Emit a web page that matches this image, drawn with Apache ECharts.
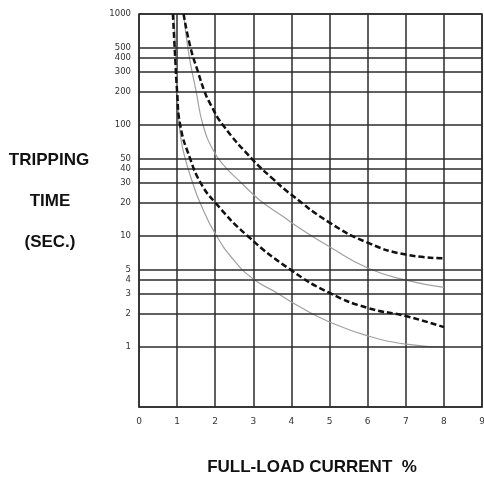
<!DOCTYPE html>
<html>
<head>
<meta charset="utf-8">
<script src="https://cdn.jsdelivr.net/npm/echarts@6/dist/echarts.min.js"></script>
<style>
html, body { margin: 0; padding: 0; background: #fff; }
#chart { width: 484px; height: 478px; }
</style>
</head>
<body>
<div id="chart"></div>
<script>
// tick labels
var xTicks = [0, 1, 2, 3, 4, 5, 6, 7, 8, 9];
var yTicks = [1000, 500, 400, 300, 200, 100, 50, 40, 30, 20, 10, 5, 4, 3, 2, 1];

// curves: [current x full-load, seconds]
var upperDashed = [[1.17, 1000], [1.35, 500], [1.55, 300], [1.72, 200], [1.85, 160], [2.2, 100],
	[3.0, 48], [3.5, 33], [4.0, 23.5], [5.0, 13.2], [6.0, 8.7], [7.0, 6.8], [8.0, 6.3]];
var upperSolid = [[1.17, 1000], [1.3, 450], [1.5, 200], [1.68, 100], [1.95, 59], [2.26, 42],
	[2.69, 30], [3.17, 21], [3.79, 14.9], [4.18, 12], [5.0, 8.0], [6.0, 5.15], [7.0, 4.0], [8.0, 3.45]];
var lowerDashed = [[0.89, 1000], [0.95, 400], [1.0, 200], [1.08, 100], [1.34, 50], [1.62, 30],
	[2.0, 20], [2.85, 10], [4.0, 4.9], [5.0, 3.07], [6.0, 2.25], [7.0, 1.9], [8.0, 1.51]];
var lowerSolid = [[0.92, 1000], [0.955, 500], [1.0, 220], [1.04, 120], [1.1, 75], [1.21, 50],
	[1.41, 30], [1.6, 20], [2.0, 10.5], [2.5, 6.0], [3.0, 4.1], [3.6, 3.1], [4.23, 2.29],
	[5.0, 1.68], [6.0, 1.26], [7.0, 1.06], [8.0, 1.0]];

var gridColor = '#2b2b2b';
var labelFont = 'DejaVu Sans';
var titleFont = 'bold 17px "Liberation Sans", Arial, sans-serif';

var myChart = echarts.init(document.getElementById('chart'));

var hLines = [];
for (var i = 0; i < yTicks.length; i++) {
	hLines.push({ yAxis: yTicks[i] });
}

function dashedSeries(name, data) {
	return {
		name: name,
		type: 'line',
		data: data,
		smooth: 0.5,
		symbol: 'none',
		lineStyle: { color: '#111', width: 2.5, type: [6, 3] },
		z: 5
	};
}

function solidSeries(name, data) {
	return {
		name: name,
		type: 'line',
		data: data,
		smooth: 0.5,
		symbol: 'none',
		lineStyle: { color: '#a0a0a0', width: 1.2 },
		z: 4
	};
}

var series = [
	dashedSeries('upperDashed', upperDashed),
	solidSeries('upperSolid', upperSolid),
	dashedSeries('lowerDashed', lowerDashed),
	solidSeries('lowerSolid', lowerSolid)
];
// horizontal grid + y labels
series[0].markLine = {
	silent: true,
	animation: false,
	symbol: ['none', 'none'],
	lineStyle: { color: gridColor, width: 1.5, type: 'solid' },
	label: {
		show: true,
		position: 'start',
		distance: 8,
		formatter: function (p) { return p.value; },
		fontFamily: labelFont,
		fontSize: 8.5,
		color: '#333'
	},
	data: hLines
};

var option = {
	animation: false,
	backgroundColor: '#fff',
	grid: {
		left: 139,
		right: 2,
		top: 14,
		bottom: 71,
		show: true,
		borderColor: gridColor,
		borderWidth: 1.5,
		outerBoundsMode: 'none'
	},
	xAxis: {
		type: 'value',
		min: 0,
		max: 9,
		interval: 1,
		axisLine: { show: true, lineStyle: { color: gridColor, width: 1.5 } },
		axisTick: { show: false },
		splitLine: { show: true, lineStyle: { color: gridColor, width: 1.5 } },
		axisLabel: {
			margin: 10,
			fontFamily: labelFont,
			fontSize: 9,
			color: '#333',
			formatter: function (v) { return xTicks.indexOf(v) >= 0 ? String(v) : ''; }
		}
	},
	yAxis: {
		type: 'log',
		logBase: 10,
		min: 0.288,
		max: 1000,
		axisLine: { show: false },
		axisTick: { show: false },
		axisLabel: { show: false },
		splitLine: { show: false }
	},
	graphic: [
		{ type: 'text', x: 49, y: 160, style: { text: 'TRIPPING', font: titleFont, fill: '#111', textAlign: 'center', textVerticalAlign: 'middle' } },
		{ type: 'text', x: 50, y: 201, style: { text: 'TIME', font: titleFont, fill: '#111', textAlign: 'center', textVerticalAlign: 'middle' } },
		{ type: 'text', x: 50, y: 242, style: { text: '(SEC.)', font: titleFont, fill: '#111', textAlign: 'center', textVerticalAlign: 'middle' } },
		{ type: 'text', x: 312, y: 467, style: { text: 'FULL-LOAD CURRENT  %', font: titleFont, fill: '#111', textAlign: 'center', textVerticalAlign: 'middle' } }
	],
	series: series
};
myChart.setOption(option);
</script>
</body>
</html>
